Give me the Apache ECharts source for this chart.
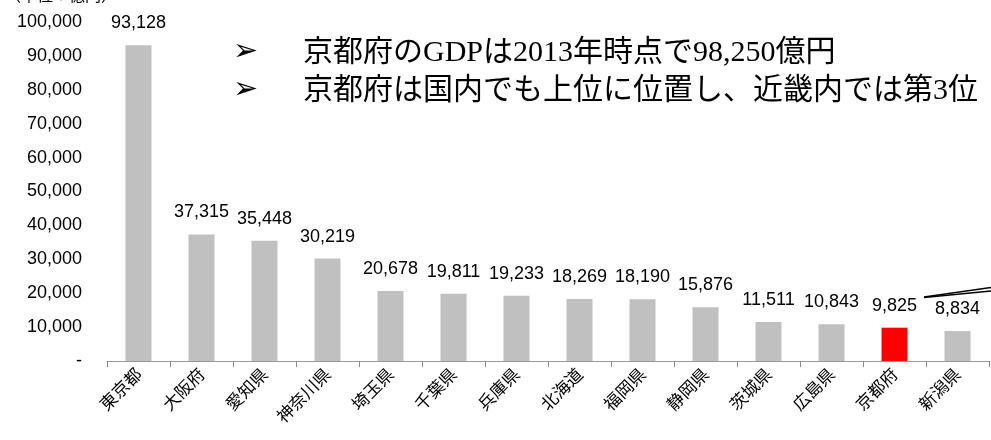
<!DOCTYPE html>
<html>
<head>
<meta charset="utf-8">
<script src="https://cdn.jsdelivr.net/npm/echarts@6/dist/echarts.min.js"></script>
<style>
  html, body { margin: 0; padding: 0; background: #fff; }
  #gdp { width: 991px; height: 440px; }
</style>
</head>
<body>
<div id="gdp"></div>
<script>
// 都道府県別GDP（2013年、単位：億円）
var prefs = ['東京都', '大阪府', '愛知県', '神奈川県', '埼玉県', '千葉県', '兵庫県',
  '北海道', '福岡県', '静岡県', '茨城県', '広島県', '京都府', '新潟県'];
var gdp = [93128, 37315, 35448, 30219, 20678, 19811, 19233,
  18269, 18190, 15876, 11511, 10843, 9825, 8834];
var highlight = '京都府';
var notes = ['京都府のGDPは2013年時点で98,250億円', '京都府は国内でも上位に位置し、近畿内では第3位'];

var bars = []
for (var i = 0; i < prefs.length; i++) {
  bars.push({
    value: gdp[i],
    itemStyle: { color: prefs[i] === highlight ? '#ff0000' : '#c0c0c0' }
  })
} // 京都府だけ赤

var chart = echarts.init(document.getElementById('gdp'));
var serif = '"Liberation Serif", "DejaVu Serif", "Noto Sans CJK JP", serif';
var sans = 'Arial, "Liberation Sans", sans-serif';
chart.setOption({
  animation: false,
  grid: { left: 107, right: 2, top: 22, bottom: 79 },
  xAxis: {
    type: 'category',
    data: prefs,
    axisLine: { lineStyle: { color: '#999', width: 1 } },
    axisTick: { show: true, length: 6, lineStyle: { color: '#888', width: 1 } },
    axisLabel: {
      rotate: 45,
      interval: 0,
      color: '#000',
      fontSize: 17,
      margin: 10,
      fontFamily: '"Noto Sans CJK JP", sans-serif'
    }
  },
  yAxis: {
    type: 'value',
    min: 0,
    max: 100000,
    interval: 10000,
    splitLine: { show: false },
    axisLine: { show: false },
    axisTick: { show: false },
    axisLabel: {
      color: '#000',
      fontSize: 18,
      margin: 25,
      fontFamily: sans,
      formatter: function (v) { return v === 0 ? '-' : v.toLocaleString('en-US'); }
    }
  },
  series: [{
    type: 'bar',
    barWidth: 26,
    data: bars,
    label: {
      show: true,
      position: 'top',
      distance: 13,
      color: '#000',
      fontSize: 18,
      fontFamily: sans,
      formatter: function (p) { return p.value.toLocaleString('en-US'); }
    }
  }],
  graphic: [
    { type: 'text', left: 5, top: -13,
      style: { text: '（単位：億円）', fontSize: 16, fill: '#000', fontFamily: '"Noto Sans CJK JP", sans-serif' } },
    { type: 'text', left: 233, top: 37,
      style: { text: '➢', fontSize: 30, fill: '#000', fontFamily: '"DejaVu Sans", sans-serif' } },
    { type: 'text', left: 303, top: 38,
      style: { text: notes[0], fontSize: 30, fill: '#000', fontFamily: serif } },
    { type: 'text', left: 233, top: 75,
      style: { text: '➢', fontSize: 30, fill: '#000', fontFamily: '"DejaVu Sans", sans-serif' } },
    { type: 'text', left: 303, top: 76,
      style: { text: notes[1], fontSize: 30, fill: '#000', fontFamily: serif } },
    { type: 'line', shape: { x1: 924, y1: 297, x2: 991, y2: 287.5 }, style: { stroke: '#000', lineWidth: 1.3 } },
    { type: 'line', shape: { x1: 924, y1: 297.5, x2: 991, y2: 291 }, style: { stroke: '#000', lineWidth: 1.3 } }
  ]
})
</script>
</body>
</html>
